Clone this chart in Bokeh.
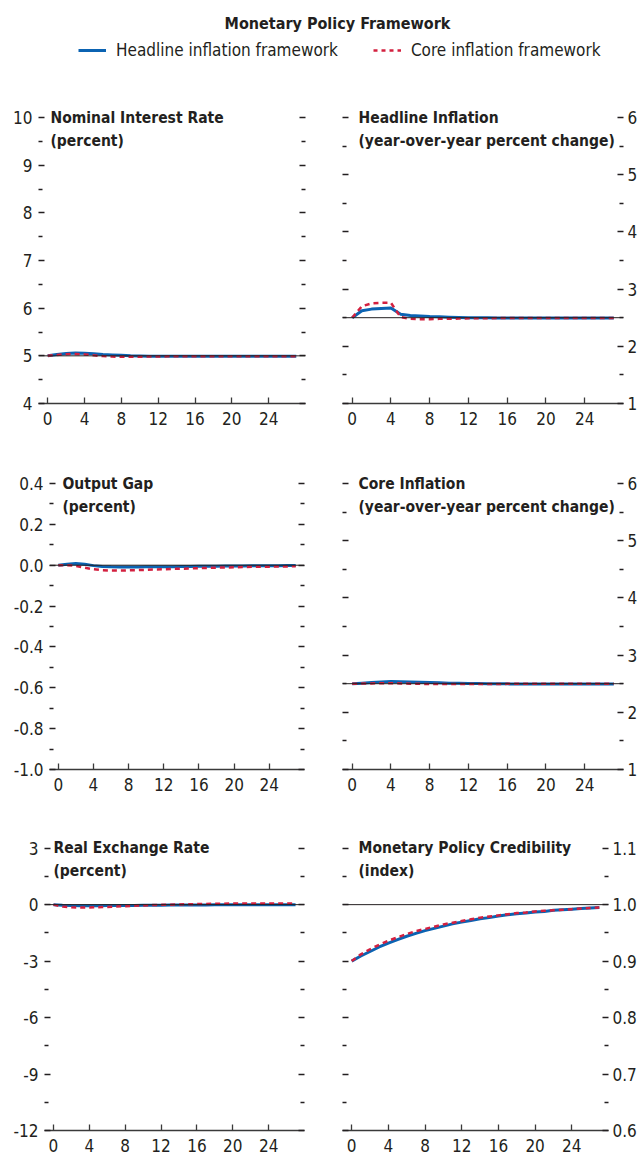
from bokeh.plotting import figure
from bokeh.layouts import column, row
from bokeh.models import (Span, Label, LinearAxis, FixedTicker, NumeralTickFormatter,
                          CustomJSTickFormatter, Legend, LegendItem, Range1d)
from bokeh.embed import file_html
from bokeh.resources import INLINE

# ---------------- data ----------------
chart_title = "Monetary Policy Framework"
series_names = ["Headline inflation framework", "Core inflation framework"]
quarters = list(range(28))
x_ticks = [0, 4, 8, 12, 16, 20, 24]

nominal_headline = [5.00, 5.03, 5.05, 5.06, 5.055, 5.045, 5.03, 5.02, 5.01, 5.00, 4.995, 4.99, 4.99, 4.99,
                    4.99, 4.99, 4.99, 4.99, 4.99, 4.99, 4.99, 4.99, 4.99, 4.99, 4.99, 4.99, 4.99, 4.99]
nominal_core = [5.00, 5.02, 5.035, 5.04, 5.03, 5.01, 4.995, 4.985, 4.98, 4.98, 4.98, 4.985, 4.985, 4.99,
                4.99, 4.99, 4.99, 4.99, 4.99, 4.99, 4.99, 4.99, 4.99, 4.99, 4.99, 4.99, 4.99, 4.99]

headline_headline = [2.50, 2.62, 2.65, 2.66, 2.67, 2.56, 2.54, 2.53, 2.52, 2.515, 2.51, 2.505, 2.50, 2.50,
                     2.50, 2.495, 2.495, 2.495, 2.495, 2.495, 2.495, 2.495, 2.495, 2.495, 2.495, 2.495, 2.495, 2.495]
headline_core = [2.50, 2.70, 2.75, 2.76, 2.76, 2.51, 2.48, 2.475, 2.475, 2.48, 2.48, 2.485, 2.49, 2.49,
                 2.49, 2.495, 2.495, 2.495, 2.495, 2.495, 2.495, 2.495, 2.495, 2.495, 2.495, 2.495, 2.495, 2.495]

gap_headline = [0.0, 0.005, 0.008, 0.005, -0.002, -0.006, -0.008, -0.009, -0.009, -0.009, -0.008, -0.008, -0.007, -0.007,
                -0.006, -0.006, -0.005, -0.005, -0.005, -0.004, -0.004, -0.004, -0.003, -0.003, -0.003, -0.003, -0.002, -0.002]
gap_core = [0.0, 0.0, -0.003, -0.012, -0.02, -0.024, -0.026, -0.026, -0.025, -0.024, -0.023, -0.021, -0.02, -0.018,
            -0.017, -0.016, -0.014, -0.013, -0.012, -0.011, -0.01, -0.009, -0.008, -0.007, -0.007, -0.006, -0.006, -0.005]

core_headline = [2.50, 2.51, 2.52, 2.53, 2.54, 2.535, 2.53, 2.525, 2.52, 2.515, 2.51, 2.507, 2.504, 2.502,
                 2.50, 2.498, 2.497, 2.496, 2.495, 2.495, 2.494, 2.494, 2.494, 2.494, 2.494, 2.494, 2.494, 2.494]
core_core = [2.50, 2.502, 2.505, 2.507, 2.507, 2.505, 2.50, 2.497, 2.495, 2.494, 2.493, 2.493, 2.493, 2.494,
             2.495, 2.496, 2.497, 2.498, 2.498, 2.499, 2.499, 2.50, 2.50, 2.50, 2.50, 2.50, 2.50, 2.50]

rer_headline = [0.0, -0.03, -0.05, -0.06, -0.06, -0.06, -0.05, -0.05, -0.04, -0.04, -0.03, -0.03, -0.03, -0.02,
                -0.02, -0.02, -0.02, -0.02, -0.01, -0.01, -0.01, -0.01, -0.01, -0.01, -0.01, -0.01, -0.01, -0.01]
rer_core = [0.0, -0.10, -0.14, -0.15, -0.15, -0.14, -0.12, -0.10, -0.08, -0.06, -0.04, -0.02, -0.01, 0.0,
            0.01, 0.02, 0.03, 0.04, 0.05, 0.05, 0.06, 0.06, 0.06, 0.06, 0.06, 0.06, 0.06, 0.06]

cred_headline = [0.900, 0.909, 0.917, 0.925, 0.932, 0.938, 0.944, 0.949, 0.954, 0.958, 0.962, 0.966, 0.969, 0.972,
                 0.975, 0.977, 0.980, 0.982, 0.984, 0.985, 0.987, 0.988, 0.990, 0.991, 0.992, 0.993, 0.994, 0.995]
cred_core = [0.900, 0.912, 0.921, 0.929, 0.936, 0.942, 0.948, 0.953, 0.957, 0.961, 0.965, 0.968, 0.971, 0.974,
             0.977, 0.979, 0.981, 0.983, 0.985, 0.986, 0.988, 0.989, 0.990, 0.991, 0.992, 0.993, 0.994, 0.995]

# panel definitions: titles, y ticks, minor ticks, reference lines
titles = [("Nominal Interest Rate", "(percent)"),
          ("Headline Inflation", "(year-over-year percent change)"),
          ("Output Gap", "(percent)"),
          ("Core Inflation", "(year-over-year percent change)"),
          ("Real Exchange Rate", "(percent)"),
          ("Monetary Policy Credibility", "(index)")]
y_major = [[4, 5, 6, 7, 8, 9, 10],
           [1, 2, 3, 4, 5, 6],
           [-1.0, -0.8, -0.6, -0.4, -0.2, 0.0, 0.2, 0.4],
           [1, 2, 3, 4, 5, 6],
           [-12, -9, -6, -3, 0, 3],
           [0.6, 0.7, 0.8, 0.9, 1.0, 1.1]]
y_minor = [[4.5, 5.5, 6.5, 7.5, 8.5, 9.5],
           [1.5, 2.5, 3.5, 4.5, 5.5],
           [-0.9, -0.7, -0.5, -0.3, -0.1, 0.1, 0.3],
           [1.5, 2.5, 3.5, 4.5, 5.5],
           [-10.5, -7.5, -4.5, -1.5, 1.5],
           [0.65, 0.75, 0.85, 0.95, 1.05]]
y_formats = ["0", "0", "0.0", "0", "0", "0.0"]
ref_lines = [5.0, 2.5, 0.0, 2.5, 0.0, 1.0]
headline_series = [nominal_headline, headline_headline, gap_headline, core_headline, rer_headline, cred_headline]
core_series = [nominal_core, headline_core, gap_core, core_core, rer_core, cred_core]

# ---------------- style ----------------
FONT = "'Noto Sans Condensed', 'DejaVu Sans Condensed', 'Liberation Sans', sans-serif"
TXT = "#231f20"
BLUE = "#0b63b2"
RED = "#d3203f"
DASH = "5 4"

MARGIN = 8
LEFT_W, RIGHT_W = 308 + MARGIN, 324
TOP_PAD = 14                      # frame space above the top tick (room for panel titles)
row_heights = [366, 366, 322]
tick_span_px = [286, 286, 289]    # pixel distance between lowest and highest y tick
border_top = [3, 3, 2]
border_bottom = [63, 63, 17]
left_border_l = [38, 49, 44]
left_border_r = [11, 12, 12]
right_border_l = [26, 26, 26]
right_border_r = [16, 16, 32]
title_offsets = [12, 16, 13, 16, 9, 16]


def style_y_axis(ax, ticker, show, fmt):
    ax.ticker = ticker
    ax.axis_line_color = None
    ax.major_tick_in = 6
    ax.major_tick_out = 0
    ax.minor_tick_in = 4
    ax.minor_tick_out = 0
    ax.major_tick_line_color = TXT
    ax.major_tick_line_width = 1.3
    ax.minor_tick_line_color = TXT
    ax.minor_tick_line_width = 1.3
    ax.major_label_text_font = FONT
    ax.major_label_text_font_size = "17px"
    ax.major_label_text_color = TXT
    ax.major_label_standoff = 6
    ax.formatter = NumeralTickFormatter(format=fmt) if show else CustomJSTickFormatter(code="return ''")


def make_panel(i):
    r, c = divmod(i, 2)
    lo, hi = y_major[i][0], y_major[i][-1]
    top = hi + (hi - lo) * TOP_PAD / tick_span_px[r]
    if c == 0:
        w, bl, br = LEFT_W, left_border_l[r], left_border_r[r]
    else:
        w, bl, br = RIGHT_W, right_border_l[r], right_border_r[r]
    p = figure(width=w, height=row_heights[r], x_range=Range1d(-1, 28), y_range=Range1d(lo, top),
               output_backend="svg", toolbar_location=None,
               min_border_left=bl, min_border_right=br,
               min_border_top=border_top[r], min_border_bottom=border_bottom[r])
    p.outline_line_color = None
    p.grid.visible = False
    p.background_fill_color = "white"

    ticker = FixedTicker(ticks=y_major[i], minor_ticks=y_minor[i])
    style_y_axis(p.yaxis[0], ticker, c == 0, y_formats[i])
    rax = LinearAxis()
    style_y_axis(rax, ticker, c == 1, y_formats[i])
    rax.major_label_standoff = 4
    p.add_layout(rax, "right")

    xa = p.xaxis[0]
    xa.ticker = FixedTicker(ticks=x_ticks, minor_ticks=[])
    xa.axis_line_color = "#3a3a3a"
    xa.axis_line_width = 1.6
    xa.major_tick_in = 6
    xa.major_tick_out = 0
    xa.major_tick_line_color = "#3a3a3a"
    xa.major_tick_line_width = 1.3
    xa.minor_tick_line_color = None
    xa.major_label_text_font = FONT
    xa.major_label_text_font_size = "17px"
    xa.major_label_text_color = TXT
    xa.major_label_standoff = 8

    p.add_layout(Span(location=ref_lines[i], dimension="width", line_color="#231f20", line_width=1))
    p.line(quarters, headline_series[i], line_color=BLUE, line_width=3)
    p.line(quarters, core_series[i], line_color=RED, line_width=2.5, line_dash=DASH)

    t1, t2 = titles[i]
    for k, t in enumerate((t1, t2)):
        p.add_layout(Label(x=-1, y=hi, x_offset=title_offsets[i], y_offset=-23 * k, text=t,
                           text_font=FONT, text_font_style="bold", text_font_size="15.5px",
                           text_color=TXT, text_baseline="middle", text_align="left"))
    return p


panels = [make_panel(i) for i in range(6)]

# ---------------- header: title + legend ----------------
HDR_W = LEFT_W + RIGHT_W
HDR_H = 100
hdr = figure(width=HDR_W, height=HDR_H, x_range=Range1d(0, HDR_W),
             y_range=Range1d(0, HDR_H), output_backend="svg", toolbar_location=None,
             min_border=0)
hdr.axis.visible = False
hdr.grid.visible = False
hdr.outline_line_color = None
hdr.add_layout(Label(x=337, y=HDR_H - 23, text=chart_title,
                     text_font=FONT, text_font_style="bold", text_font_size="16px",
                     text_color=TXT, text_align="center", text_baseline="middle"))
nan = float("nan")
r1 = hdr.line([nan], [nan], line_color=BLUE, line_width=3)
r2 = hdr.line([nan], [nan], line_color=RED, line_width=2.5, line_dash="4 4")
legend = Legend(items=[LegendItem(label=series_names[0], renderers=[r1]),
                       LegendItem(label=series_names[1], renderers=[r2])],
                orientation="horizontal", location=(78, HDR_H - 50 - 10),
                glyph_width=28, glyph_height=20, label_height=20, label_standoff=10,
                spacing=35, padding=0, margin=0,
                label_text_font=FONT, label_text_font_size="17px", label_text_color=TXT,
                border_line_color=None, background_fill_alpha=0)
hdr.add_layout(legend)

layout = column(hdr,
                row(panels[0], panels[1]),
                row(panels[2], panels[3]),
                row(panels[4], panels[5]))

open("out.html", "w").write(file_html(layout, INLINE))
